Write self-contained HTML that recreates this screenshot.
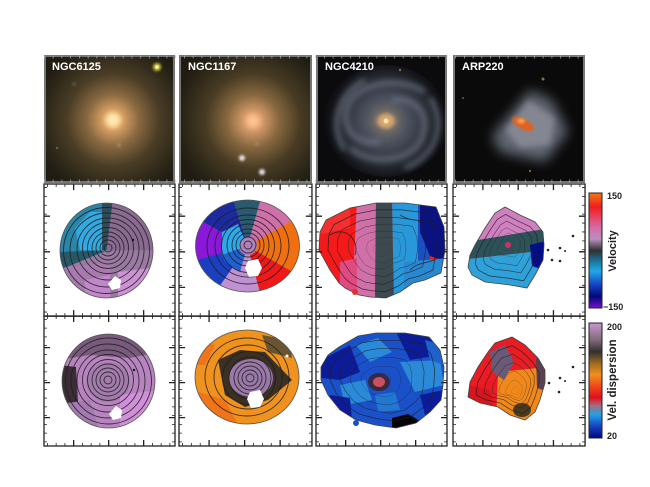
<!DOCTYPE html>
<html><head><meta charset="utf-8"><style>
html,body{margin:0;padding:0;background:#fff;}
svg{display:block;}
text{font-family:"Liberation Sans",Arial,sans-serif;font-weight:bold;}
</style></head><body>
<svg width="650" height="487" viewBox="0 0 650 487" xmlns="http://www.w3.org/2000/svg">
<defs>
  <filter id="b1" x="-50%" y="-50%" width="200%" height="200%"><feGaussianBlur stdDeviation="1.2"/></filter>
  <filter id="b3" x="-50%" y="-50%" width="200%" height="200%"><feGaussianBlur stdDeviation="3"/></filter>
  <filter id="b6" x="-50%" y="-50%" width="200%" height="200%"><feGaussianBlur stdDeviation="6"/></filter>
  <radialGradient id="g1" gradientUnits="userSpaceOnUse" cx="113" cy="120" r="80">
    <stop offset="0" stop-color="#fff2c0"/><stop offset="0.06" stop-color="#f6cf8e"/>
    <stop offset="0.14" stop-color="#d49c60"/><stop offset="0.32" stop-color="#8a6a42"/>
    <stop offset="0.58" stop-color="#4a3d26"/><stop offset="0.85" stop-color="#2c2718"/><stop offset="1" stop-color="#201c12"/>
  </radialGradient>
  <radialGradient id="g2" gradientUnits="userSpaceOnUse" cx="253" cy="121" r="82">
    <stop offset="0" stop-color="#ffe0b0"/><stop offset="0.06" stop-color="#f2ad78"/>
    <stop offset="0.14" stop-color="#cc9464"/><stop offset="0.32" stop-color="#86683f"/>
    <stop offset="0.58" stop-color="#483b24"/><stop offset="0.85" stop-color="#2b2617"/><stop offset="1" stop-color="#1f1b11"/>
  </radialGradient>
  <radialGradient id="g3" gradientUnits="userSpaceOnUse" cx="386" cy="121" r="64">
    <stop offset="0" stop-color="#ffe4a8"/><stop offset="0.06" stop-color="#d0a470"/>
    <stop offset="0.15" stop-color="#6e6a66"/><stop offset="0.35" stop-color="#4a505e"/>
    <stop offset="0.65" stop-color="#2c3038"/><stop offset="0.88" stop-color="#121317"/><stop offset="1" stop-color="#0b0b0e"/>
  </radialGradient>
  <linearGradient id="cv" x1="0" y1="0" x2="0" y2="1">
    <stop offset="0" stop-color="#f07a10"/><stop offset="0.12" stop-color="#f01e1e"/>
    <stop offset="0.3" stop-color="#d86aa8"/><stop offset="0.4" stop-color="#b890c0"/>
    <stop offset="0.5" stop-color="#303030"/><stop offset="0.6" stop-color="#1a7aa0"/>
    <stop offset="0.68" stop-color="#20a8e8"/><stop offset="0.8" stop-color="#1840c0"/>
    <stop offset="0.9" stop-color="#000878"/><stop offset="1" stop-color="#7a10c8"/>
  </linearGradient>
  <linearGradient id="cd" x1="0" y1="0" x2="0" y2="1">
    <stop offset="0" stop-color="#c898d0"/><stop offset="0.15" stop-color="#806878"/>
    <stop offset="0.25" stop-color="#303030"/><stop offset="0.35" stop-color="#a06820"/>
    <stop offset="0.45" stop-color="#f09020"/><stop offset="0.55" stop-color="#f04818"/>
    <stop offset="0.65" stop-color="#e01020"/><stop offset="0.72" stop-color="#a07080"/>
    <stop offset="0.8" stop-color="#20a0e8"/><stop offset="0.9" stop-color="#1840c0"/>
    <stop offset="1" stop-color="#000880"/>
  </linearGradient>
  <clipPath id="c1a"><rect x="44" y="55" width="131" height="128"/></clipPath>
  <clipPath id="c2a"><rect x="179" y="55" width="133" height="128"/></clipPath>
  <clipPath id="c3a"><rect x="316" y="55" width="131" height="128"/></clipPath>
  <clipPath id="c4a"><rect x="453" y="55" width="132" height="128"/></clipPath>
  <clipPath id="p1v"><ellipse cx="106.5" cy="250.5" rx="46.5" ry="47.5"/></clipPath>
  <clipPath id="p1d"><ellipse cx="108.5" cy="381" rx="46.5" ry="47"/></clipPath>
  <clipPath id="p2v"><ellipse cx="247.5" cy="246" rx="52" ry="46"/></clipPath>
  <clipPath id="p2d"><ellipse cx="247" cy="377" rx="52" ry="47"/></clipPath>
  <path id="s3v" d="M326,220 L350,208 L376,203 L405,203 L436,207 L444,227 L445,250 L441,273 L425,280 L413,283 L400,292 L386,298 L370,297 L359,295 L345,288 L339,283 L330,270 L319,250 L320,232 Z"/>
  <path id="s3d" d="M339,347 L358,336 L376,333 L405,333 L429,337 L440,350 L444,367 L443,385 L441,400 L430,412 L416,423 L396,428 L375,425 L356,420 L340,410 L328,395 L321,380 L321,367 L328,355 Z"/>
  <path id="s4v" d="M505,207 L520,215 L535,222 L543,232 L544,245 L543,260 L535,275 L527,288 L510,285 L485,282 L472,275 L468,267 L470,255 L475,245 L485,228 L495,213 Z"/>
  <path id="s4d" d="M512,337 L525,345 L538,358 L545,370 L545,383 L540,400 L535,412 L525,420 L510,415 L498,407 L480,403 L468,397 L470,382 L478,367 L488,352 L495,343 Z"/>
  <clipPath id="p3v"><use href="#s3v"/></clipPath>
  <clipPath id="p3d"><use href="#s3d"/></clipPath>
  <clipPath id="p4v"><use href="#s4v"/></clipPath>
  <clipPath id="p4d"><use href="#s4d"/></clipPath>
  <g id="tk" fill="none" stroke="#222">
    <rect x="0" y="0" width="131" height="130" stroke-width="1.3"/>
    <line x1="0" y1="1.5" x2="131" y2="1.5" stroke-width="3" stroke-dasharray="0.8 7.95" stroke-dashoffset="-3"/>
    <line x1="0" y1="128.5" x2="131" y2="128.5" stroke-width="3" stroke-dasharray="0.8 7.95" stroke-dashoffset="-3"/>
    <line x1="1.5" y1="0" x2="1.5" y2="130" stroke-width="3" stroke-dasharray="0.8 7.95" stroke-dashoffset="-3"/>
    <line x1="129.5" y1="0" x2="129.5" y2="130" stroke-width="3" stroke-dasharray="0.8 7.95" stroke-dashoffset="-3"/>
    <line x1="0" y1="3" x2="131" y2="3" stroke-width="6" stroke-dasharray="1.3 33.7" stroke-dashoffset="6"/>
    <line x1="0" y1="127" x2="131" y2="127" stroke-width="6" stroke-dasharray="1.3 33.7" stroke-dashoffset="6"/>
    <line x1="3" y1="0" x2="3" y2="130" stroke-width="6" stroke-dasharray="1.3 33.7" stroke-dashoffset="4"/>
    <line x1="128" y1="0" x2="128" y2="130" stroke-width="6" stroke-dasharray="1.3 33.7" stroke-dashoffset="4"/>
  </g>
</defs>
<rect width="650" height="487" fill="#fff"/>

<!-- ROW 1: images -->
<g clip-path="url(#c1a)">
  <rect x="44" y="55" width="131" height="128" fill="url(#g1)"/>
  <circle cx="157" cy="67" r="4" fill="#c8c040" filter="url(#b1)"/>
  <circle cx="157" cy="67" r="1.8" fill="#fff8a0"/>
  <circle cx="119" cy="145" r="2" fill="#a08a70" filter="url(#b1)"/>
  <circle cx="74" cy="84" r="1.5" fill="#6a6a70" filter="url(#b1)"/>
  <circle cx="57" cy="148" r="1.2" fill="#6a6050"/>
  <circle cx="113" cy="120" r="6" fill="#ffe8b0" filter="url(#b3)"/>
</g>
<g clip-path="url(#c2a)">
  <rect x="179" y="55" width="133" height="128" fill="url(#g2)"/>
  <circle cx="253" cy="121" r="6" fill="#f8c090" filter="url(#b3)"/>
  <circle cx="242" cy="158" r="3" fill="#e8e0e0" filter="url(#b1)"/>
  <circle cx="262" cy="172" r="3" fill="#e8e0e8" filter="url(#b1)"/>
  <circle cx="257" cy="144" r="1.6" fill="#a09080" filter="url(#b1)"/>
</g>
<g clip-path="url(#c3a)">
  <rect x="316" y="55" width="131" height="128" fill="#0b0b0e"/>
  <ellipse cx="386" cy="121" rx="62" ry="56" fill="url(#g3)"/>
  <g fill="none" stroke="#7a8294" stroke-width="5" opacity="0.6" filter="url(#b3)">
    <path d="M392,100 C420,96 432,120 420,142 C408,162 370,166 350,148"/>
    <path d="M380,142 C352,146 338,122 350,102 C362,82 400,76 425,92"/>
    <path d="M430,98 C445,120 440,155 405,168"/>
    <path d="M345,150 C330,130 335,95 365,80"/>
  </g>
  <ellipse cx="386" cy="121" rx="9" ry="6" fill="#d8a870" filter="url(#b3)"/>
  <circle cx="386" cy="121" r="2.5" fill="#f8e0b0"/>
  <circle cx="400" cy="70" r="1.2" fill="#8a6a40"/>
</g>
<g clip-path="url(#c4a)">
  <rect x="453" y="55" width="132" height="128" fill="#0a0a0a"/>
  <polygon points="530,90 492,136 500,152 545,162 568,132 552,100" fill="#868ea0" opacity="0.7" filter="url(#b6)"/>
  <polygon points="528,100 505,130 520,148 550,145 555,118" fill="#a0a2aa" opacity="0.55" filter="url(#b3)"/>
  <ellipse cx="523" cy="124" rx="12" ry="5" transform="rotate(28 523 124)" fill="#e06020" filter="url(#b1)"/>
  <ellipse cx="521" cy="121" rx="4" ry="2.5" fill="#f8a050" filter="url(#b1)"/>
  <circle cx="543" cy="79" r="1.5" fill="#8a7040"/>
  <circle cx="530" cy="171" r="1.2" fill="#7a6040"/>
  <circle cx="463" cy="98" r="1" fill="#6a5a40"/>
</g>
<g fill="none" stroke="#777" stroke-width="2">
  <rect x="45" y="56" width="129" height="126"/>
  <rect x="180" y="56" width="131" height="126"/>
  <rect x="317" y="56" width="129" height="126"/>
  <rect x="454" y="56" width="130" height="126"/>
</g>
<g fill="#fff" font-size="11">
  <text x="52" y="70">NGC6125</text>
  <text x="188" y="70">NGC1167</text>
  <text x="325" y="70">NGC4210</text>
  <text x="462" y="70">ARP220</text>
</g>

<!-- ROW 2: velocity -->
<g clip-path="url(#p1v)">
  <rect x="55" y="198" width="104" height="106" fill="#9a7aa0"/>
  <path d="M106.5,250.5 L50,265 L50,195 L102,195 Z" fill="#2a86a8"/>
  <path d="M106.5,250.5 L55,272 L55,252 Z" fill="#285868"/>
  <path d="M106.5,250.5 L80,250 L75,228 L90,212 L102,212 Z" fill="#34a8e0"/>
  <rect x="102" y="198" width="11" height="52" fill="#2e4c5a"/>
  <path d="M113,198 L160,198 L160,250 L106.5,250.5 Z" fill="#8a6a90"/>
  <path d="M60,268 L110,262 L112,300 L60,300 Z" fill="#a87aae"/>
  <path d="M118,272 L150,268 L150,300 L118,300 Z" fill="#cc92d4"/>
  <path d="M85,280 L110,275 L110,300 L85,300 Z" fill="#c088c8"/>
</g>
<g fill="none" stroke="#1e1e22" stroke-width="0.9" opacity="0.85">
  <circle cx="108" cy="248" r="4"/><circle cx="108" cy="248" r="8"/><circle cx="108" cy="248" r="12"/>
  <circle cx="108" cy="248" r="16"/><circle cx="108" cy="248" r="20.5"/><circle cx="108" cy="248" r="25.5"/>
  <circle cx="108" cy="249" r="31"/><circle cx="107" cy="250" r="37"/><circle cx="106.5" cy="250.5" r="43"/>
</g>
<ellipse cx="106.5" cy="250.5" rx="46.5" ry="47.5" fill="none" stroke="#555" stroke-width="0.8"/>
<path d="M115,276 L121,280 L120,288 L112,290 L108,284 Z" fill="#fff"/>
<circle cx="133" cy="240" r="1.2" fill="#111"/>

<g clip-path="url(#p2v)">
  <rect x="190" y="195" width="115" height="105" fill="#c090d0"/>
  <path d="M247.5,246 L310,210 L310,282 Z" fill="#f07010"/>
  <path d="M247.5,246 L310,282 L260,300 Z" fill="#f01818"/>
  <path d="M247.5,246 L262,300 L210,300 Z" fill="#c090d0"/>
  <path d="M247.5,246 L210,300 L190,260 Z" fill="#1a40c0"/>
  <path d="M247.5,246 L190,262 L190,215 Z" fill="#8a18d8"/>
  <path d="M247.5,246 L190,215 L200,195 L232,195 Z" fill="#1c2aa0"/>
  <path d="M247.5,246 L232,195 L262,195 Z" fill="#2a5a70"/>
  <path d="M247.5,246 L262,195 L300,195 L310,210 Z" fill="#d070a8"/>
  <path d="M247.5,246 L222,255 L222,232 L238,224 Z" fill="#30a8e8"/>
  <path d="M247.5,246 L240,272 L225,262 L222,255 Z" fill="#2060d0"/>
  <circle cx="248" cy="246" r="9" fill="#b080b8"/>
</g>
<g fill="none" stroke="#1e1e22" stroke-width="0.9" opacity="0.85">
  <circle cx="248" cy="245" r="4"/><circle cx="248" cy="245" r="8"/><circle cx="248" cy="245" r="12"/>
  <circle cx="248" cy="245" r="16"/><circle cx="248" cy="245" r="21"/><circle cx="248" cy="246" r="26.5"/>
  <ellipse cx="248" cy="246" rx="33" ry="31"/><ellipse cx="248" cy="246" rx="41" ry="38"/>
</g>
<ellipse cx="247.5" cy="246" rx="52" ry="46" fill="none" stroke="#555" stroke-width="0.8"/>
<path d="M248,261 L258,259 L262,268 L258,276 L249,277 L245,268 Z" fill="#fff"/>

<!-- P3 velocity -->
<g clip-path="url(#p3v)">
  <rect x="316" y="200" width="132" height="100" fill="#f41a1a"/>
  <polygon points="357,200 376,200 375,300 352,300" fill="#d070a8"/>
  <polygon points="376,200 392,200 394,300 375,300" fill="#3c4a50"/>
  <polygon points="392,200 418,200 418,300 394,300" fill="#2898d8"/>
  <polygon points="418,200 430,200 430,300 418,300" fill="#1c50c0"/>
  <polygon points="420,200 448,200 448,262 430,256 420,232" fill="#0a1282"/>
  <polygon points="404,262 448,258 448,300 404,300" fill="#2a88d0"/>
  <polygon points="316,200 350,200 350,228 316,235" fill="#f23030"/>
  <polygon points="340,262 357,258 357,300 340,300" fill="#e04a80"/>
</g>
<g fill="none" stroke="#1e1e22" stroke-width="0.9" opacity="0.8">
  <use href="#s3v" transform="translate(383 252) scale(0.86) translate(-383 -252)"/>
  <use href="#s3v" transform="translate(380 252) scale(0.7) translate(-380 -252)"/>
  <use href="#s3v" transform="translate(384 250) scale(0.55) translate(-384 -250)"/>
  <use href="#s3v" transform="translate(380 250) scale(0.4) translate(-380 -250)"/>
  <use href="#s3v" transform="translate(384 250) scale(0.27) translate(-384 -250)"/>
  <use href="#s3v" transform="translate(382 250) scale(0.14) translate(-382 -250)"/>
  <path d="M330,235 C345,225 360,240 355,255 M400,215 C415,225 430,215 438,230 M410,270 C420,260 432,265 440,255"/>
</g>
<use href="#s3v" fill="none" stroke="#444" stroke-width="0.8"/>
<circle cx="355" cy="292" r="3" fill="#e03030"/>

<!-- P4 velocity -->
<g clip-path="url(#p4v)">
  <rect x="460" y="200" width="90" height="95" fill="#d080c0"/>
  <polygon points="460,243 550,228 550,250 460,260" fill="#2d5258"/>
  <polygon points="460,260 550,250 550,295 460,295" fill="#30a0d8"/>
  <polygon points="530,245 550,240 550,272 532,266" fill="#000c88"/>
  <circle cx="508" cy="245" r="3" fill="#d03060"/>
</g>
<g fill="none" stroke="#1e1e22" stroke-width="0.9" opacity="0.8">
  <use href="#s4v" transform="translate(508 248) scale(0.82) translate(-508 -248)"/>
  <use href="#s4v" transform="translate(510 246) scale(0.64) translate(-510 -246)"/>
  <use href="#s4v" transform="translate(508 246) scale(0.47) translate(-508 -246)"/>
  <use href="#s4v" transform="translate(510 244) scale(0.3) translate(-510 -244)"/>
  <use href="#s4v" transform="translate(508 245) scale(0.15) translate(-508 -245)"/>
</g>
<use href="#s4v" fill="none" stroke="#444" stroke-width="0.8"/>
<g fill="#222">
  <circle cx="573" cy="236" r="1.3"/><circle cx="560" cy="248" r="1.3"/><circle cx="565" cy="251" r="1"/>
  <circle cx="552" cy="260" r="1.3"/><circle cx="560" cy="261" r="1.3"/><circle cx="548" cy="250" r="1.3"/>
</g>

<!-- ROW 3: dispersion -->
<g clip-path="url(#p1d)">
  <rect x="60" y="332" width="100" height="100" fill="#b884c0"/>
  <polygon points="60,332 160,332 160,352 130,358 90,355 60,360" fill="#7a5a7c"/>
  <ellipse cx="108" cy="382" rx="22" ry="20" fill="#a47cac"/>
  <polygon points="60,365 76,367 78,402 60,404" fill="#3a2e34"/>
  <polygon points="120,395 160,390 160,432 120,432" fill="#d090d8"/>
  <polygon points="60,404 90,400 100,432 60,432" fill="#a47ab0"/>
</g>
<g fill="none" stroke="#1e1e22" stroke-width="0.9" opacity="0.85">
  <circle cx="108" cy="380" r="4"/><circle cx="108" cy="380" r="8"/><circle cx="108" cy="380" r="12"/>
  <circle cx="108" cy="380" r="16"/><circle cx="108" cy="380" r="20.5"/><circle cx="108" cy="380" r="25.5"/>
  <circle cx="108" cy="381" r="31"/><circle cx="108" cy="381" r="37"/><circle cx="108.5" cy="381" r="43"/>
</g>
<ellipse cx="108.5" cy="381" rx="46.5" ry="47" fill="none" stroke="#555" stroke-width="0.8"/>
<path d="M116,406 L122,410 L121,418 L113,420 L109,414 Z" fill="#fff"/>
<circle cx="134" cy="370" r="1.2" fill="#111"/>

<g clip-path="url(#p2d)">
  <rect x="192" y="328" width="110" height="100" fill="#f0921e"/>
  <polygon points="192,390 225,400 240,428 192,428" fill="#f07418"/>
  <polygon points="192,340 215,345 205,365 192,365" fill="#f07418"/>
  <polygon points="262,335 290,340 292,358 268,352" fill="#6a5430"/>
  <polygon points="218,360 240,350 265,352 292,380 268,400 245,407 225,395" fill="#3a3024"/>
  <ellipse cx="251" cy="378" rx="22" ry="19" fill="#9a78a8"/>
</g>
<g fill="none" stroke="#1e1e22" stroke-width="0.9" opacity="0.85">
  <circle cx="250" cy="378" r="4"/><circle cx="250" cy="378" r="8"/><circle cx="250" cy="378" r="12"/>
  <circle cx="250" cy="378" r="16"/><circle cx="250" cy="378" r="21"/><circle cx="249" cy="378" r="26.5"/>
  <ellipse cx="248" cy="377" rx="34" ry="32"/><ellipse cx="247" cy="377" rx="42" ry="39"/>
</g>
<ellipse cx="247" cy="377" rx="52" ry="47" fill="none" stroke="#555" stroke-width="0.8"/>
<path d="M250,392 L260,390 L264,399 L260,407 L251,408 L247,399 Z" fill="#fff"/>
<circle cx="287" cy="356" r="1.5" fill="#fff"/>

<!-- P3 dispersion -->
<g clip-path="url(#p3d)">
  <rect x="316" y="330" width="132" height="102" fill="#1a50c8"/>
  <polygon points="321,360 350,345 360,372 340,380 321,378" fill="#0c1c98"/>
  <polygon points="395,330 430,335 440,355 410,360" fill="#0c1c98"/>
  <polygon points="356,345 378,338 392,352 370,362" fill="#2a8ad8"/>
  <polygon points="400,362 440,360 444,385 415,392" fill="#2a8ad8"/>
  <polygon points="340,385 365,380 372,400 345,405" fill="#2a8ad8"/>
  <polygon points="420,395 443,390 443,405 425,415" fill="#0c1c98"/>
  <polygon points="330,395 350,398 352,420 330,410" fill="#0c1c98"/>
  <polygon points="375,395 395,392 400,410 378,412" fill="#2278d0"/>
  <polygon points="425,340 444,345 444,365 430,360" fill="#1e60cc"/>
  <polygon points="392,418 408,414 420,421 410,432 392,432" fill="#050508"/>
</g>
<ellipse cx="379" cy="382" rx="11" ry="9" fill="#3a2a40"/>
<ellipse cx="379" cy="382" rx="6" ry="5" fill="#c85060"/>
<g fill="none" stroke="#1e1e22" stroke-width="0.9" opacity="0.75">
  <use href="#s3d" transform="translate(382 382) scale(0.85) translate(-382 -382)"/>
  <use href="#s3d" transform="translate(382 382) scale(0.68) translate(-382 -382)"/>
  <use href="#s3d" transform="translate(380 382) scale(0.5) translate(-380 -382)"/>
  <use href="#s3d" transform="translate(380 382) scale(0.32) translate(-380 -382)"/>
  <use href="#s3d" transform="translate(379 382) scale(0.18) translate(-379 -382)"/>
</g>
<use href="#s3d" fill="none" stroke="#444" stroke-width="0.8"/>
<circle cx="356" cy="423" r="3" fill="#1a50c8"/>

<!-- P4 dispersion -->
<g clip-path="url(#p4d)">
  <rect x="465" y="333" width="85" height="92" fill="#e81c22"/>
  <polygon points="498,372 538,368 546,400 530,425 496,420" fill="#f0881c"/>
  <polygon points="490,352 505,345 514,362 504,380 492,372" fill="#6a5a78"/>
  <polygon points="536,358 548,362 548,392 537,388" fill="#5a4050"/>
  <ellipse cx="522" cy="410" rx="9" ry="7" fill="#4a3a1c"/>
  <polygon points="468,385 490,390 496,420 468,420" fill="#d8141c"/>
</g>
<g fill="none" stroke="#1e1e22" stroke-width="0.9" opacity="0.8">
  <use href="#s4d" transform="translate(512 385) scale(0.82) translate(-512 -385)"/>
  <use href="#s4d" transform="translate(514 386) scale(0.65) translate(-514 -386)"/>
  <use href="#s4d" transform="translate(516 388) scale(0.5) translate(-516 -388)"/>
  <use href="#s4d" transform="translate(516 390) scale(0.36) translate(-516 -390)"/>
  <use href="#s4d" transform="translate(516 392) scale(0.22) translate(-516 -392)"/>
  <use href="#s4d" transform="translate(516 392) scale(0.1) translate(-516 -392)"/>
</g>
<use href="#s4d" fill="none" stroke="#444" stroke-width="0.8"/>
<g fill="#222">
  <circle cx="573" cy="367" r="1.3"/><circle cx="560" cy="378" r="1.3"/><circle cx="565" cy="381" r="1"/>
  <circle cx="559" cy="392" r="1.3"/><circle cx="549" cy="383" r="1.3"/>
</g>

<!-- Frames with ticks rows 2-3 -->
<use href="#tk" transform="translate(44 184) scale(1 1.017)"/>
<use href="#tk" transform="translate(179 184) scale(1.015 1.017)"/>
<use href="#tk" transform="translate(316 184) scale(1 1.017)"/>
<use href="#tk" transform="translate(453 184) scale(1.008 1.017)"/>
<use href="#tk" transform="translate(44 316)"/>
<use href="#tk" transform="translate(179 316) scale(1.015 1)"/>
<use href="#tk" transform="translate(316 316)"/>
<use href="#tk" transform="translate(453 316) scale(1.008 1)"/>
<g stroke="#bbb" fill="none" opacity="0.8">
  <line x1="44" y1="181" x2="585" y2="181" stroke-width="3" stroke-dasharray="0.8 7.95"/>
  <line x1="44" y1="57" x2="585" y2="57" stroke-width="3" stroke-dasharray="0.8 7.95"/>
</g>

<!-- Colorbars -->
<rect x="589" y="193" width="13" height="115" fill="url(#cv)" stroke="#222" stroke-width="1"/>
<rect x="589" y="323" width="13" height="115" fill="url(#cd)" stroke="#222" stroke-width="1"/>
<g fill="#222" font-size="9">
  <text x="607" y="199">150</text>
  <text x="603" y="310">−150</text>
  <text x="607" y="330">200</text>
  <text x="607" y="439">20</text>
</g>
<g fill="#222" font-size="11">
  <text transform="translate(616 251) rotate(-90)" text-anchor="middle">Velocity</text>
  <text transform="translate(616 380) rotate(-90)" text-anchor="middle" font-size="11.5">Vel. dispersion</text>
</g>
</svg>
</body></html>
